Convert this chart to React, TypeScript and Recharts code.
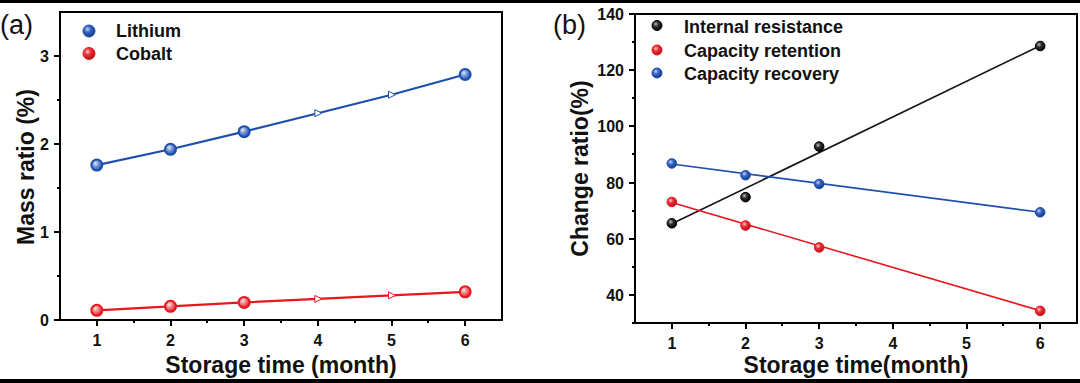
import { ComposedChart, Line, Scatter, XAxis, YAxis } from 'recharts'

// panel (a): element mass ratio vs storage time
const months = [1, 2, 3, 4, 5, 6]
const lithium = [1.76, 1.94, 2.14, 2.35, 2.56, 2.79]
const cobalt = [0.11, 0.155, 0.2, 0.24, 0.28, 0.32]
const markedMonths = [1, 2, 3, 6]

// panel (b): change ratio vs storage time
const sampleMonths = [1, 2, 3, 6]
const internalResistance = [65.5, 74.8, 92.8, 128.6]
const capacityRetention = [73.1, 64.7, 56.9, 34.3]
const capacityRecovery = [86.8, 82.6, 79.5, 69.4]
const fitMonths = [1, 6]
const resistanceFit = [65.3, 128.7]
const retentionFit = [72.9, 34.4]
const recoveryFit = [86.6, 69.4]

const xTicks = [1, 1.5, 2, 2.5, 3, 3.5, 4, 4.5, 5, 5.5, 6]
const aYTicks = [0, 0.5, 1, 1.5, 2, 2.5, 3]
const aYMajor = [0, 1, 2, 3]
const bYTicks = [30, 40, 50, 60, 70, 80, 90, 100, 110, 120, 130, 140]
const bYMajor = [40, 60, 80, 100, 120, 140]

const X_DOMAIN: [number, number] = [0.5, 6.5]
const A_Y_DOMAIN: [number, number] = [0, 3.5]
const B_Y_DOMAIN: [number, number] = [30, 140]

const BLUE = '#1d4fae'
const RED = '#e8171f'
const BLACK = '#151515'
const INK = '#111'
const FONT = '"Liberation Sans", Arial, Helvetica, sans-serif'

const tickFont = { fontFamily: FONT, fontSize: 16, fontWeight: 700, fill: INK }
const titleFont = { fontFamily: FONT, fontSize: 23, fontWeight: 700, fill: INK }
const legendFont = { fontFamily: FONT, fontSize: 18, fontWeight: 700, fill: INK }

// chart boxes (page px) - plot area follows from margins + axis sizes
const A_BOX = { left: 0, margin: { top: 12, right: 38, left: 0, bottom: 0 }, yw: 60, xh: 63 }
const B_BOX = { left: 540, margin: { top: 14, right: 3, left: 0, bottom: 0 }, yw: 95, xh: 60 }
const plotOf = (b: typeof A_BOX) => ({
  x: b.left + b.yw,
  y: b.margin.top,
  w: 540 - b.yw - b.margin.right,
  h: 383 - b.margin.top - b.xh,
})

const zip = (xs: number[], ys: number[]) => xs.map((x, i) => ({ x, y: ys[i] }))

function XTick({ x, y, payload }: any) {
  const v = payload.value
  if (!Number.isInteger(v)) return <g />
  return <text x={x} y={y + 26} textAnchor="middle" style={tickFont}>{v}</text>
}

const makeYTick = (majors: number[]) => ({ x, y, payload }: any) => {
  const v = payload.value
  if (!majors.includes(v)) return <g />
  return <text x={x - 11} y={y + 6} textAnchor="end" style={tickFont}>{v}</text>
}

function Ball({ cx, cy, r, fill, stroke }: any) {
  return <circle cx={cx} cy={cy} r={r} fill={fill} stroke={stroke} strokeWidth={1} />
}

const ringDot = (color: string, grad: string) => (props: any) => {
  const { cx, cy, payload, index } = props
  if (markedMonths.includes(payload.x)) {
    return <circle key={index} cx={cx} cy={cy} r={5.5} fill={`url(#${grad})`} stroke={color} strokeWidth={2} />
  }
  return (
    <path key={index} d={`M${cx - 3},${cy - 3.5} L${cx + 4},${cy} L${cx - 3},${cy + 3.5} Z`}
      fill="#fff" stroke={color} strokeWidth={1} />
  )
}

const ballShape = (grad: string, color: string) => (props: any) => (
  <Ball cx={props.cx} cy={props.cy} r={4.8} fill={`url(#${grad})`} stroke={color} />
)

const grad = (id: string, hi: string, mid: string, lo: string) => (
  <radialGradient key={id} id={id} cx="38%" cy="35%" r="65%">
    <stop offset="0%" stopColor={hi} />
    <stop offset="40%" stopColor={mid} />
    <stop offset="100%" stopColor={lo} />
  </radialGradient>
)

const block = (left: number, top: number, width: number, height: number, key?: string) => (
  <div key={key} style={{ position: 'absolute', left, top, width, height, background: '#000' }} />
)

// frame + tick marks as plain html blocks over the charts
function AxesFrame({ box, yDomain, yTicks, yMajor }: any) {
  const p = plotOf(box)
  const sx = (v: number) => p.x + ((v - X_DOMAIN[0]) / (X_DOMAIN[1] - X_DOMAIN[0])) * p.w
  const sy = (v: number) => p.y + p.h - ((v - yDomain[0]) / (yDomain[1] - yDomain[0])) * p.h
  const bottom = p.y + p.h
  return (
    <>
      {block(p.x - 1, p.y - 1, p.w + 2, 2)}
      {block(p.x - 1, bottom - 1, p.w + 2, 2)}
      {block(p.x - 1, p.y - 1, 2, p.h + 2)}
      {block(p.x + p.w - 1, p.y - 1, 2, p.h + 2)}
      {xTicks.map((v) => block(sx(v) - 1, bottom, 2, Number.isInteger(v) ? 6 : 3, `x${v}`))}
      {yTicks.map((v: number) => {
        const len = yMajor.includes(v) ? 6 : 3
        return block(p.x - len, sy(v) - 1, len, 2, `y${v}`)
      })}
    </>
  )
}

function PanelA() {
  return (
    <ComposedChart width={540} height={383} margin={A_BOX.margin}>
      <defs>
        {grad('aBallBlue', '#c9d6f2', '#3a66c4', '#123a8a')}
        {grad('aBallRed', '#ffd0d0', '#f0343a', '#b00d14')}
        {grad('aRingBlue', '#e4ebf8', '#7f9bd8', BLUE)}
        {grad('aRingRed', '#ffe8e8', '#f48a8d', RED)}
      </defs>
      <XAxis type="number" dataKey="x" domain={X_DOMAIN} ticks={xTicks} interval={0}
        height={A_BOX.xh} tickSize={0} tickMargin={0} tick={<XTick />} axisLine={false} allowDataOverflow />
      <YAxis type="number" domain={A_Y_DOMAIN} ticks={aYTicks} interval={0} width={A_BOX.yw}
        tickSize={0} tickMargin={0} tick={makeYTick(aYMajor)} axisLine={false} allowDataOverflow />
      <Line data={zip(months, lithium)} dataKey="y" stroke={BLUE} strokeWidth={2.2}
        dot={ringDot(BLUE, 'aRingBlue')} isAnimationActive={false} />
      <Line data={zip(months, cobalt)} dataKey="y" stroke={RED} strokeWidth={2.2}
        dot={ringDot(RED, 'aRingRed')} isAnimationActive={false} />
      <text x={0} y={34} style={{ fontFamily: FONT, fontSize: 27, fill: INK }}>(a)</text>
      <Ball cx={89} cy={31} r={6} fill="url(#aBallBlue)" stroke={BLUE} />
      <text x={116} y={37} style={legendFont}>Lithium</text>
      <Ball cx={89} cy={53.5} r={6} fill="url(#aBallRed)" stroke={RED} />
      <text x={116} y={60} style={legendFont}>Cobalt</text>
      <text x={281} y={373} textAnchor="middle" style={titleFont}>Storage time (month)</text>
      <text x={33.5} y={167} textAnchor="middle" transform="rotate(-90 33.5 167)" style={titleFont}>Mass ratio (%)</text>
    </ComposedChart>
  )
}

function PanelB() {
  return (
    <ComposedChart width={540} height={383} margin={B_BOX.margin}>
      <defs>
        {grad('bBallBlue', '#c9d6f2', '#3a66c4', '#123a8a')}
        {grad('bBallRed', '#ffd0d0', '#f0343a', '#b00d14')}
        {grad('bBallBlack', '#bdbdbd', '#333', '#000')}
      </defs>
      <XAxis type="number" dataKey="x" domain={X_DOMAIN} ticks={xTicks} interval={0}
        height={B_BOX.xh} tickSize={0} tickMargin={0} tick={<XTick />} axisLine={false} allowDataOverflow />
      <YAxis type="number" domain={B_Y_DOMAIN} ticks={bYTicks} interval={0} width={B_BOX.yw}
        tickSize={0} tickMargin={0} tick={makeYTick(bYMajor)} axisLine={false} allowDataOverflow />
      <Line data={zip(fitMonths, resistanceFit)} dataKey="y" stroke={BLACK} strokeWidth={1.6} dot={false} isAnimationActive={false} />
      <Line data={zip(fitMonths, retentionFit)} dataKey="y" stroke={RED} strokeWidth={1.6} dot={false} isAnimationActive={false} />
      <Line data={zip(fitMonths, recoveryFit)} dataKey="y" stroke={BLUE} strokeWidth={1.6} dot={false} isAnimationActive={false} />
      <Scatter data={zip(sampleMonths, internalResistance)} dataKey="y" shape={ballShape('bBallBlack', '#000')} isAnimationActive={false} />
      <Scatter data={zip(sampleMonths, capacityRetention)} dataKey="y" shape={ballShape('bBallRed', RED)} isAnimationActive={false} />
      <Scatter data={zip(sampleMonths, capacityRecovery)} dataKey="y" shape={ballShape('bBallBlue', BLUE)} isAnimationActive={false} />
      <text x={13} y={34} style={{ fontFamily: FONT, fontSize: 27, fill: INK }}>(b)</text>
      <Ball cx={117} cy={25.5} r={5} fill="url(#bBallBlack)" stroke="#000" />
      <text x={144} y={33} style={legendFont}>Internal resistance</text>
      <Ball cx={117} cy={50} r={5} fill="url(#bBallRed)" stroke={RED} />
      <text x={144} y={57} style={legendFont}>Capacity retention</text>
      <Ball cx={117} cy={73} r={5} fill="url(#bBallBlue)" stroke={BLUE} />
      <text x={144} y={80} style={legendFont}>Capacity recovery</text>
      <text x={316} y={373} textAnchor="middle" style={titleFont}>Storage time(month)</text>
      <text x={48} y={168.5} textAnchor="middle" transform="rotate(-90 48 168.5)" style={titleFont}>Change ratio(%)</text>
    </ComposedChart>
  )
}

export default function App() {
  return (
    <div style={{ position: 'absolute', left: 0, top: 0, width: 1080, height: 383 }}>
      <div style={{ position: 'absolute', left: 0, top: 0 }}><PanelA /></div>
      <div style={{ position: 'absolute', left: 540, top: 0 }}><PanelB /></div>
      <AxesFrame box={A_BOX} yDomain={A_Y_DOMAIN} yTicks={aYTicks} yMajor={aYMajor} />
      <AxesFrame box={B_BOX} yDomain={B_Y_DOMAIN} yTicks={bYTicks} yMajor={bYMajor} />
      {block(0, 0, 1080, 3)}
      {block(0, 379, 1080, 4)}
    </div>
  )
}
